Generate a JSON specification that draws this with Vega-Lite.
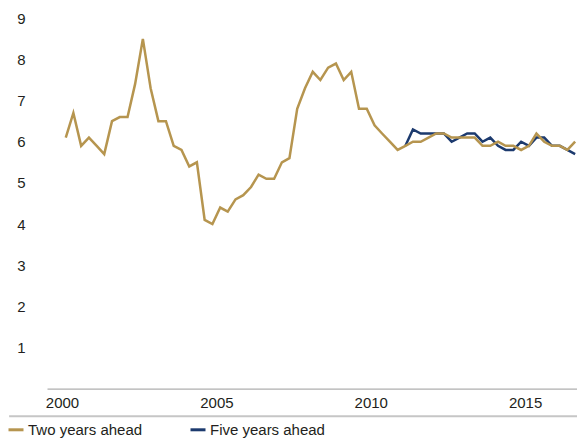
{
  "$schema": "https://vega.github.io/schema/vega-lite/v6.json",
  "width": 530,
  "height": 370.3,
  "autosize": {"type": "none"},
  "padding": {"left": 47, "top": 18.3, "right": 0, "bottom": 52.7},
  "background": "white",
  "config": {
    "view": {"stroke": null},
    "font": "Liberation Sans",
    "axis": {"labelFont": "Liberation Sans", "labelFontSize": 15, "labelColor": "#231f20", "grid": false, "title": null}
  },
  "datasets": {
    "expectations": [
      {"q": "2011-02-15", "s": "Five years ahead", "v": 5.9},
      {"q": "2011-05-15", "s": "Five years ahead", "v": 6.3},
      {"q": "2011-08-15", "s": "Five years ahead", "v": 6.2},
      {"q": "2011-11-15", "s": "Five years ahead", "v": 6.2},
      {"q": "2012-02-15", "s": "Five years ahead", "v": 6.2},
      {"q": "2012-05-15", "s": "Five years ahead", "v": 6.2},
      {"q": "2012-08-15", "s": "Five years ahead", "v": 6.0},
      {"q": "2012-11-15", "s": "Five years ahead", "v": 6.1},
      {"q": "2013-02-15", "s": "Five years ahead", "v": 6.2},
      {"q": "2013-05-15", "s": "Five years ahead", "v": 6.2},
      {"q": "2013-08-15", "s": "Five years ahead", "v": 6.0},
      {"q": "2013-11-15", "s": "Five years ahead", "v": 6.1},
      {"q": "2014-02-15", "s": "Five years ahead", "v": 5.9},
      {"q": "2014-05-15", "s": "Five years ahead", "v": 5.8},
      {"q": "2014-08-15", "s": "Five years ahead", "v": 5.8},
      {"q": "2014-11-15", "s": "Five years ahead", "v": 6.0},
      {"q": "2015-02-15", "s": "Five years ahead", "v": 5.9},
      {"q": "2015-05-15", "s": "Five years ahead", "v": 6.1},
      {"q": "2015-08-15", "s": "Five years ahead", "v": 6.1},
      {"q": "2015-11-15", "s": "Five years ahead", "v": 5.9},
      {"q": "2016-02-15", "s": "Five years ahead", "v": 5.9},
      {"q": "2016-05-15", "s": "Five years ahead", "v": 5.8},
      {"q": "2016-08-15", "s": "Five years ahead", "v": 5.7},
      {"q": "2000-02-15", "s": "Two years ahead", "v": 6.1},
      {"q": "2000-05-15", "s": "Two years ahead", "v": 6.7},
      {"q": "2000-08-15", "s": "Two years ahead", "v": 5.9},
      {"q": "2000-11-15", "s": "Two years ahead", "v": 6.1},
      {"q": "2001-02-15", "s": "Two years ahead", "v": 5.9},
      {"q": "2001-05-15", "s": "Two years ahead", "v": 5.7},
      {"q": "2001-08-15", "s": "Two years ahead", "v": 6.5},
      {"q": "2001-11-15", "s": "Two years ahead", "v": 6.6},
      {"q": "2002-02-15", "s": "Two years ahead", "v": 6.6},
      {"q": "2002-05-15", "s": "Two years ahead", "v": 7.4},
      {"q": "2002-08-15", "s": "Two years ahead", "v": 8.5},
      {"q": "2002-11-15", "s": "Two years ahead", "v": 7.3},
      {"q": "2003-02-15", "s": "Two years ahead", "v": 6.5},
      {"q": "2003-05-15", "s": "Two years ahead", "v": 6.5},
      {"q": "2003-08-15", "s": "Two years ahead", "v": 5.9},
      {"q": "2003-11-15", "s": "Two years ahead", "v": 5.8},
      {"q": "2004-02-15", "s": "Two years ahead", "v": 5.4},
      {"q": "2004-05-15", "s": "Two years ahead", "v": 5.5},
      {"q": "2004-08-15", "s": "Two years ahead", "v": 4.1},
      {"q": "2004-11-15", "s": "Two years ahead", "v": 4.0},
      {"q": "2005-02-15", "s": "Two years ahead", "v": 4.4},
      {"q": "2005-05-15", "s": "Two years ahead", "v": 4.3},
      {"q": "2005-08-15", "s": "Two years ahead", "v": 4.6},
      {"q": "2005-11-15", "s": "Two years ahead", "v": 4.7},
      {"q": "2006-02-15", "s": "Two years ahead", "v": 4.9},
      {"q": "2006-05-15", "s": "Two years ahead", "v": 5.2},
      {"q": "2006-08-15", "s": "Two years ahead", "v": 5.1},
      {"q": "2006-11-15", "s": "Two years ahead", "v": 5.1},
      {"q": "2007-02-15", "s": "Two years ahead", "v": 5.5},
      {"q": "2007-05-15", "s": "Two years ahead", "v": 5.6},
      {"q": "2007-08-15", "s": "Two years ahead", "v": 6.8},
      {"q": "2007-11-15", "s": "Two years ahead", "v": 7.3},
      {"q": "2008-02-15", "s": "Two years ahead", "v": 7.7},
      {"q": "2008-05-15", "s": "Two years ahead", "v": 7.5},
      {"q": "2008-08-15", "s": "Two years ahead", "v": 7.8},
      {"q": "2008-11-15", "s": "Two years ahead", "v": 7.9},
      {"q": "2009-02-15", "s": "Two years ahead", "v": 7.5},
      {"q": "2009-05-15", "s": "Two years ahead", "v": 7.7},
      {"q": "2009-08-15", "s": "Two years ahead", "v": 6.8},
      {"q": "2009-11-15", "s": "Two years ahead", "v": 6.8},
      {"q": "2010-02-15", "s": "Two years ahead", "v": 6.4},
      {"q": "2010-05-15", "s": "Two years ahead", "v": 6.2},
      {"q": "2010-08-15", "s": "Two years ahead", "v": 6.0},
      {"q": "2010-11-15", "s": "Two years ahead", "v": 5.8},
      {"q": "2011-02-15", "s": "Two years ahead", "v": 5.9},
      {"q": "2011-05-15", "s": "Two years ahead", "v": 6.0},
      {"q": "2011-08-15", "s": "Two years ahead", "v": 6.0},
      {"q": "2011-11-15", "s": "Two years ahead", "v": 6.1},
      {"q": "2012-02-15", "s": "Two years ahead", "v": 6.2},
      {"q": "2012-05-15", "s": "Two years ahead", "v": 6.2},
      {"q": "2012-08-15", "s": "Two years ahead", "v": 6.1},
      {"q": "2012-11-15", "s": "Two years ahead", "v": 6.1},
      {"q": "2013-02-15", "s": "Two years ahead", "v": 6.1},
      {"q": "2013-05-15", "s": "Two years ahead", "v": 6.1},
      {"q": "2013-08-15", "s": "Two years ahead", "v": 5.9},
      {"q": "2013-11-15", "s": "Two years ahead", "v": 5.9},
      {"q": "2014-02-15", "s": "Two years ahead", "v": 6.0},
      {"q": "2014-05-15", "s": "Two years ahead", "v": 5.9},
      {"q": "2014-08-15", "s": "Two years ahead", "v": 5.9},
      {"q": "2014-11-15", "s": "Two years ahead", "v": 5.8},
      {"q": "2015-02-15", "s": "Two years ahead", "v": 5.9},
      {"q": "2015-05-15", "s": "Two years ahead", "v": 6.2},
      {"q": "2015-08-15", "s": "Two years ahead", "v": 6.0},
      {"q": "2015-11-15", "s": "Two years ahead", "v": 5.9},
      {"q": "2016-02-15", "s": "Two years ahead", "v": 5.9},
      {"q": "2016-05-15", "s": "Two years ahead", "v": 5.8},
      {"q": "2016-08-15", "s": "Two years ahead", "v": 6.0}
    ]
  },
  "layer": [
    {
      "data": {"name": "expectations"},
      "mark": {"type": "line", "strokeWidth": 2.5, "strokeJoin": "miter"},
      "encoding": {
        "x": {
          "field": "q",
          "type": "temporal",
          "scale": {"type": "utc", "domain": ["1999-07-08", "2016-09-06"], "nice": false},
          "axis": {
            "format": "%Y",
            "values": [
              {"year": 2000, "utc": true},
              {"year": 2005, "utc": true},
              {"year": 2010, "utc": true},
              {"year": 2015, "utc": true}
            ],
            "domainColor": "#9a9a9a",
            "domainWidth": 1,
            "ticks": false,
            "tickSize": 0,
            "labelPadding": 7,
            "labelAlign": "center",
            "labelFlush": false
          }
        },
        "y": {
          "field": "v",
          "type": "quantitative",
          "scale": {"domain": [0, 9], "nice": false, "zero": true},
          "axis": {
            "values": [1, 2, 3, 4, 5, 6, 7, 8, 9],
            "domain": false,
            "ticks": false,
            "tickSize": 0,
            "labelPadding": 22
          }
        },
        "color": {
          "field": "s",
          "type": "nominal",
          "scale": {"domain": ["Two years ahead", "Five years ahead"], "range": ["#b6954f", "#1c3a6e"]},
          "legend": {
            "title": null,
            "orient": "none",
            "legendX": -40,
            "legendY": 402.5,
            "direction": "horizontal",
            "symbolType": "stroke",
            "symbolSize": 225,
            "symbolStrokeWidth": 3,
            "labelFont": "Liberation Sans",
            "labelFontSize": 15,
            "labelColor": "#231f20",
            "labelOffset": 3,
            "columnPadding": 41,
            "padding": 0
          }
        }
      }
    },
    {
      "data": {"values": [{}]},
      "mark": {"type": "rule", "color": "#c6c6c6", "strokeWidth": 2},
      "encoding": {
        "x": {"datum": {"year": 1998, "month": 4, "date": 16, "utc": true}, "type": "temporal"},
        "x2": {"datum": {"year": 2016, "month": 9, "date": 6, "utc": true}},
        "y": {"datum": -0.67, "type": "quantitative"}
      }
    }
  ]
}
